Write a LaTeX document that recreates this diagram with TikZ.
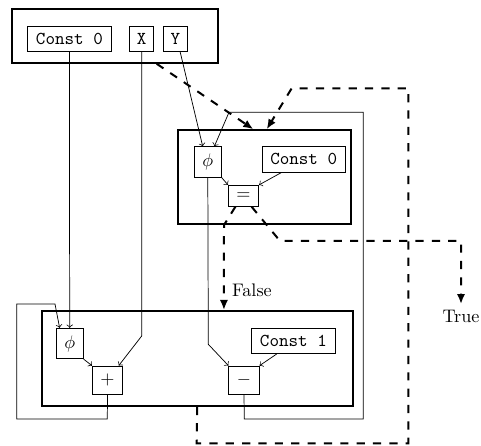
\documentclass[tikz,border=0pt]{standalone}
\usetikzlibrary{arrows.meta}
\begin{document}
\begin{tikzpicture}[x=0.55pt,y=-0.55pt,>=to,
    region/.style={draw,very thick,inner sep=0pt},
    op/.style={draw,inner sep=1pt,minimum width=16.7pt,minimum height=15.6pt},
    cst/.style={draw,inner sep=1pt,font=\ttfamily,minimum width=45.8pt,minimum height=13.9pt},
    flow/.style={-{Latex[length=5.5pt,width=4.6pt]},line width=1.1pt,dash pattern=on 4.5pt off 4.5pt}]
\useasboundingbox (0,0) rectangle (481,446);

% blocks
\node[region,minimum width=113.3pt,minimum height=29.5pt] (entry) at (114.7,35.9) {};
\node[region,minimum width=95.3pt,minimum height=51.7pt] (head) at (264.4,177.3) {};
\node[region,minimum width=171pt,minimum height=52.1pt] (body) at (197.2,358.4) {};

% entry block
\node[cst] (zeroA) at (69.4,38.9) {Const 0};
\node[op,minimum width=13.2pt,minimum height=13.4pt,font=\ttfamily] (x) at (141.7,38.9) {X};
\node[op,minimum width=13.2pt,minimum height=13.4pt,font=\ttfamily] (y) at (175.5,38.9) {Y};

% loop header
\node[op,minimum width=14.9pt,minimum height=16.8pt] (phiA) at (207.8,162) {$\phi$};
\node[cst] (zeroB) at (303.7,159.4) {Const 0};
\node[op,minimum height=11.6pt] (eq) at (243.5,195.8) {$=$};

% loop body
\node[op,minimum width=14.9pt,minimum height=16.8pt] (phiB) at (69.7,343.5) {$\phi$};
\node[op] (plus) at (107.5,380.2) {$+$};
\node[op] (minus) at (244,380.2) {$-$};
\node[cst] (one) at (293.4,341) {Const 1};

% data flow
\draw[->] (zeroA) -- (phiB);
\draw[->] (x.south) -- (141.7,336) -- ([xshift=-2.4pt]plus.north east);
\draw[->] (phiB.south east) -- (plus.north west);
\draw[->] (plus.south) -- (107.3,419) -- (16.7,419) -- (16.7,304) -- (55,304)
    -- ([xshift=2.1pt]phiB.north west);
\draw[->] ([xshift=2.5pt]y.south) -- ([xshift=-2.8pt]phiA.north);
\draw[->] (phiA.south east) -- (eq.north west);
\draw[->] ([xshift=-12.1pt]zeroB.south) -- (eq.north east);
\draw[->] (phiA.south) -- (208.3,344.3) -- (minus.north west);
\draw[->] ([xshift=-9.2pt]one.south) -- (minus.north east);
\draw[->] (minus.south) -- (244.3,419) -- (363.3,419) -- (363.3,112.3) -- (229,112.3)
    -- ([xshift=3.6pt]phiA.north);

% control flow
\draw[flow] ([xshift=23.1pt]entry.south) -- ([xshift=-6.1pt]head.north);
\draw[flow] (body.south) -- (196.7,443.3) -- (408.3,443.3) -- (408.3,88.3) -- (291.7,88.3)
    -- ([xshift=1.3pt]head.north);
\draw[flow] ([xshift=4.1pt]eq.south west) -- (224,225) -- ([xshift=14.7pt]body.north);
\node[anchor=west,inner sep=2pt] (false) at (228,290) {False};
\node (true) at (461,316.7) {True};
\draw[flow] ([xshift=-4.1pt]eq.south east) -- (280,241) -- (461,241) -- (true.north);
\end{tikzpicture}
\end{document}
